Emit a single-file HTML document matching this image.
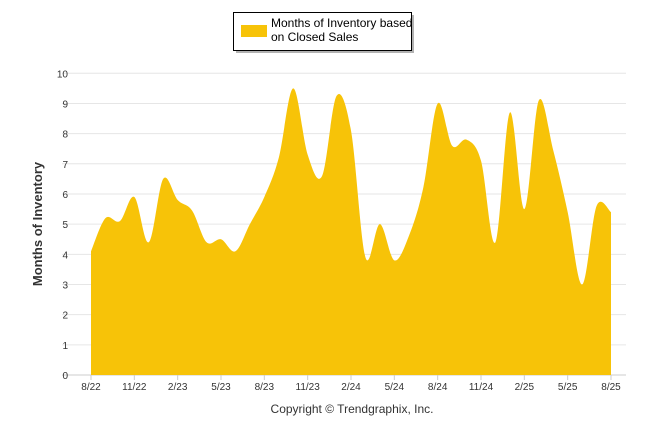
<!DOCTYPE html>
<html><head><meta charset="utf-8"><style>
body{margin:0;background:#fff;font-family:"Liberation Sans",sans-serif}
svg text{font-family:"Liberation Sans",sans-serif}
</style></head><body>
<svg id="c" width="646" height="434">
<g>
<rect x="236" y="15" width="178" height="38" fill="#666" opacity="0.5"/>
<rect x="233.5" y="12.5" width="178" height="38" fill="#fff" stroke="#000" stroke-width="1"/>
<rect x="241" y="25" width="26" height="12" fill="#f7c308"/>
<text x="271" y="27" font-size="12" fill="#000">Months of Inventory based</text>
<text x="271" y="41" font-size="12" fill="#000">on Closed Sales</text>
</g>
<g id="grid"></g>
<path id="area" fill="#f7c308"/>
<g id="xt"></g>
<text transform="translate(42,224) rotate(-90)" text-anchor="middle" font-size="13" font-weight="bold" fill="#333">Months of Inventory</text>
<text x="352" y="413" text-anchor="middle" font-size="12" fill="#333">Copyright © Trendgraphix, Inc.</text>
</svg>
<script>
const values=[4.1,5.2,5.1,5.9,4.4,6.5,5.8,5.45,4.4,4.5,4.1,5.0,5.9,7.2,9.5,7.3,6.6,9.25,8.1,3.9,5.0,3.8,4.6,6.2,9.0,7.6,7.8,7.1,4.4,8.7,5.5,9.1,7.45,5.4,3.0,5.6,5.4];
const xLabels=["8/22","11/22","2/23","5/23","8/23","11/23","2/24","5/24","8/24","11/24","2/25","5/25","8/25"];
const yTicks=[0,1,2,3,4,5,6,7,8,9,10];
const X0=91,X1=611,Y0=375,Y10=73.3;
const sx=i=>X0+(X1-X0)*i/(values.length-1);
const sy=v=>Y0-(Y0-Y10)*v/10;
const NS="http://www.w3.org/2000/svg";
const grid=document.getElementById('grid'),xt=document.getElementById('xt');
yTicks.forEach(t=>{
const l=document.createElementNS(NS,'line');
l.setAttribute('x1',62);l.setAttribute('x2',626);l.setAttribute('y1',sy(t));l.setAttribute('y2',sy(t));
l.setAttribute('stroke',t===0?'#ccc':'#e6e6e6');


grid.appendChild(l);
const tx=document.createElementNS(NS,'text');
tx.setAttribute('x',68);tx.setAttribute('y',sy(t)+4);tx.setAttribute('text-anchor','end');tx.setAttribute('font-size','10');tx.setAttribute('fill','#333');
tx.textContent=t;


grid.appendChild(tx);
});
xLabels.forEach((lb,k)=>{
const x=sx(k*3);
const l=document.createElementNS(NS,'line');
l.setAttribute('x1',x);l.setAttribute('x2',x);l.setAttribute('y1',375);l.setAttribute('y2',380);l.setAttribute('stroke','#ccc');


xt.appendChild(l);
const tx=document.createElementNS(NS,'text');
tx.setAttribute('x',x);tx.setAttribute('y',390);tx.setAttribute('text-anchor','middle');tx.setAttribute('font-size','10');tx.setAttribute('fill','#333');
tx.textContent=lb;


xt.appendChild(tx);
});
const pts=values.map((v,i)=>[sx(i),sy(v)]);
let d=`M${pts[0][0]},${Y0} L${pts[0][0]},${pts[0][1]}`;
for(let i=0;i<pts.length-1;i++){
const p0=pts[Math.max(0,i-1)],p1=pts[i],p2=pts[i+1],p3=pts[Math.min(pts.length-1,i+2)];
const k=1/6;
d+=` C${p1[0]+(p2[0]-p0[0])*k},${p1[1]+(p2[1]-p0[1])*k} ${p2[0]-(p3[0]-p1[0])*k},${p2[1]-(p3[1]-p1[1])*k} ${p2[0]},${p2[1]}`;
}
d+=` L${pts[pts.length-1][0]},${Y0} Z`;
document.getElementById('area').setAttribute('d',d);
</script>
</body></html>
